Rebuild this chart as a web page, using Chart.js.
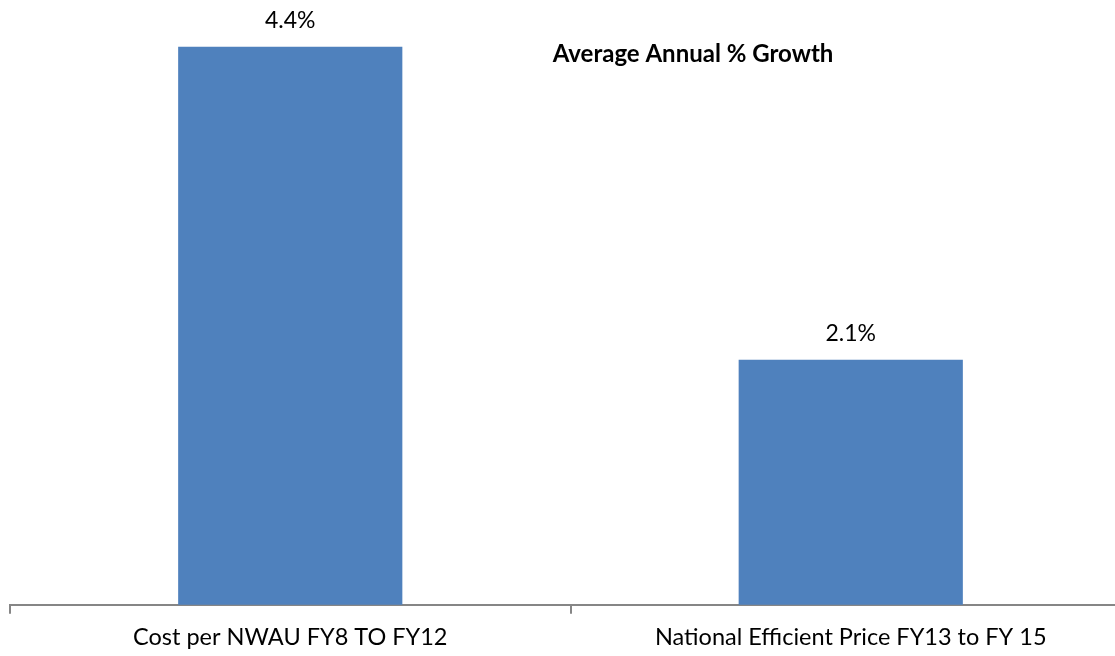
<!DOCTYPE html>
<html>
<head>
<meta charset="utf-8">
<script src="https://cdn.jsdelivr.net/npm/chart.js@4"></script>
<style>
  html, body { margin: 0; padding: 0; background: #fff; overflow: hidden; }
  canvas { display: block; }
</style>
</head>
<body>
<canvas id="growthChart" width="1135" height="662"></canvas>
<script>
// chart data
const categories = ['Cost per NWAU FY8 TO FY12', 'National Efficient Price FY13 to FY 15'];
const growthValues = [4.4, 2.1];
const chartTitle = 'Average Annual % Growth';

const fontFamily = 'Lato, "Open Sans", sans-serif';

// draws the % label above each bar
const barLabels = {
    id: 'barLabels',
    afterDatasetsDraw(chart) {
        const ctx = chart.ctx;
        const meta = chart.getDatasetMeta(0);
        ctx.save();
        ctx.font = '23px ' + fontFamily;
        ctx.fillStyle = '#000';
        ctx.textAlign = 'center';
        ctx.textBaseline = 'middle';
        meta.data.forEach((bar, i) => {
            ctx.fillText(growthValues[i].toFixed(1) + '%', bar.x, bar.y - 26);
        });
        ctx.restore();
    }
};

// title sits inside the plot area, right of centre
const innerTitle = {
    id: 'innerTitle',
    afterDraw(chart) {
        const ctx = chart.ctx;
        ctx.save();
        ctx.font = 'bold 24px ' + fontFamily;
        ctx.fillStyle = '#000';
        ctx.textAlign = 'center';
        ctx.textBaseline = 'middle';
        ctx.fillText(chartTitle, 693, 54);
        ctx.restore();
    }
};

const ctx = document.getElementById('growthChart').getContext('2d');
const growthChart = new Chart(ctx, {
    type: 'bar',
    data: {
        labels: categories,
        datasets: [{
            data: growthValues,
            backgroundColor: '#4F81BD',
            borderWidth: 0,
            categoryPercentage: 1,
            barPercentage: 0.4
        }]
    },
    options: {
        responsive: false,
        animation: false,
        layout: { padding: { top: 10, left: 10, right: 4, bottom: 0 } },
        plugins: {
            legend: { display: false },
            tooltip: { enabled: false }
        },
        scales: {
            x: {
                grid: {
                    display: true,
                    drawOnChartArea: false,
                    drawTicks: true,
                    tickLength: 9,
                    offset: true,
                    color: '#868686',
                    lineWidth: 2
                },
                border: { color: '#868686', width: 2 },
                ticks: {
                    color: '#000',
                    font: { family: fontFamily, size: 23.5 },
                    padding: 10,
                    maxRotation: 0
                }
            },
            y: {
                display: false,
                min: 0.3,
                max: 4.67
            }
        }
    },
    plugins: [barLabels, innerTitle]
});
</script>
</body>
</html>
